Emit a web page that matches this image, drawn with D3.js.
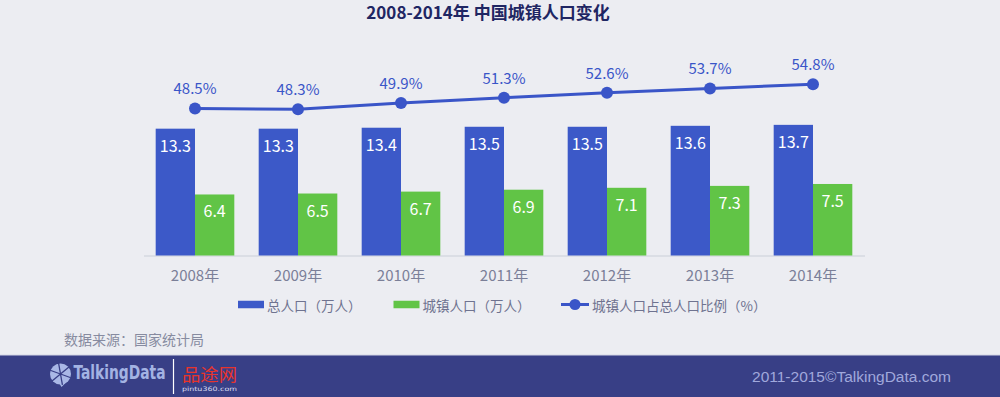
<!DOCTYPE html>
<html>
<head>
<meta charset="utf-8">
<script src="https://cdn.jsdelivr.net/npm/d3@7"></script>
<style>
  html, body { margin: 0; padding: 0; background: #ecedf2; }
  svg { display: block; }
</style>
</head>
<body>
<svg id="chart" width="1000" height="397"></svg>
<script>
const years = ['2008年', '2009年', '2010年', '2011年', '2012年', '2013年', '2014年'];
const totalPop = [13.3, 13.3, 13.4, 13.5, 13.5, 13.6, 13.7];
const urbanPop = [6.4, 6.5, 6.7, 6.9, 7.1, 7.3, 7.5];
const urbanRate = [48.5, 48.3, 49.9, 51.3, 52.6, 53.7, 54.8];
const seriesNames = ['总人口（万人）', '城镇人口（万人）', '城镇人口占总人口比例（%）'];

const BLUE = '#3c59c8';
const GREEN = '#61c446';
const LINE = '#3a55c8';
const GREY_TEXT = '#7b7f98';
const CJK = '"Noto Sans CJK SC", "Noto Sans", sans-serif';

const svg = d3.select('#chart');

svg.append('rect')
  .attr('width', 1000).attr('height', 397)
  .attr('fill', '#ecedf2');

// title
svg.append('text')
  .attr('x', 488).attr('y', 18.5)
  .attr('text-anchor', 'middle')
  .style('font-family', CJK)
  .style('font-weight', 'bold')
  .style('font-size', '17px')
  .style('fill', '#1f2663')
  .text('2008-2014年 中国城镇人口变化');

const x = d3.scaleBand()
  .domain(years)
  .range([143.5, 864.5]);

const xSub = d3.scaleBand()
  .domain(['total', 'urban'])
  .range([0, x.bandwidth()])
  .paddingInner(0)
  .paddingOuter(0.31);

const y = d3.scaleLinear()
  .domain([0, 14])
  .range([255.5, 122]);

const yRate = d3.scaleLinear()
  .domain([40, 60])
  .range([141.2, 64.2]);

// x axis
const xAxis = d3.axisBottom(x).tickSize(0).tickPadding(15);
const xAxisEl = svg.append('g')
  .attr('transform', `translate(0, ${y(0)})`)
  .call(xAxis);
xAxisEl.select('.domain')
  .attr('stroke', '#d6d8e0')
  .attr('stroke-width', 1.5);
xAxisEl.selectAll('text')
  .style('font-family', CJK)
  .style('font-size', '15px')
  .style('fill', GREY_TEXT);

const rows = years.map((yr, i) => ({ yr, total: totalPop[i], urban: urbanPop[i], rate: urbanRate[i] }));

const groups = svg.selectAll('.group')
  .data(rows)
  .enter()
  .append('g')
  .attr('class', 'group')
  .attr('transform', d => `translate(${x(d.yr)}, 0)`);

// blue bars
groups.append('rect')
  .attr('x', xSub('total'))
  .attr('width', xSub.bandwidth())
  .attr('y', d => y(d.total))
  .attr('height', d => y(0) - y(d.total))
  .attr('fill', BLUE);

// green bars
groups.append('rect')
  .attr('x', xSub('urban'))
  .attr('width', xSub.bandwidth())
  .attr('y', d => y(d.urban))
  .attr('height', d => y(0) - y(d.urban))
  .attr('fill', GREEN);

// value labels inside bars
groups.append('text')
  .attr('x', xSub('total') + xSub.bandwidth() / 2)
  .attr('y', d => y(d.total) + 23)
  .attr('text-anchor', 'middle')
  .style('font-family', CJK)
  .style('font-size', '16px')
  .style('fill', '#ffffff')
  .text(d => d3.format('.1f')(d.total));

groups.append('text')
  .attr('x', xSub('urban') + xSub.bandwidth() / 2)
  .attr('y', d => y(d.urban) + 23)
  .attr('text-anchor', 'middle')
  .style('font-family', CJK)
  .style('font-size', '16px')
  .style('fill', '#ffffff')
  .text(d => d3.format('.1f')(d.urban));

// rate line
const cx = d => x(d.yr) + x.bandwidth() / 2;
const line = d3.line()
  .x(cx)
  .y(d => yRate(d.rate));

svg.append('path')
  .datum(rows)
  .attr('d', line)
  .attr('fill', 'none')
  .attr('stroke', LINE)
  .attr('stroke-width', 3);

svg.selectAll('.dot')
  .data(rows)
  .enter()
  .append('circle')
  .attr('class', 'dot')
  .attr('cx', cx)
  .attr('cy', d => yRate(d.rate))
  .attr('r', 6)
  .attr('fill', LINE);

svg.selectAll('.rate-label')
  .data(rows)
  .enter()
  .append('text')
  .attr('class', 'rate-label')
  .attr('x', cx)
  .attr('y', d => yRate(d.rate) - 14)
  .attr('text-anchor', 'middle')
  .style('font-family', CJK)
  .style('font-size', '15px')
  .style('fill', LINE)
  .text(d => d3.format('.1f')(d.rate) + '%');

// legend
const legend = svg.append('g').attr('transform', 'translate(0, 304.5)');
const legendItems = [
  { name: seriesNames[0], x: 238, type: 'rect', color: BLUE },
  { name: seriesNames[1], x: 393.5, type: 'rect', color: GREEN },
  { name: seriesNames[2], x: 561, type: 'line', color: LINE },
];
legendItems.forEach(item => {
  if (item.type === 'rect') {
    legend.append('rect')
      .attr('x', item.x).attr('y', -3.75)
      .attr('width', 26).attr('height', 7.5)
      .attr('fill', item.color);
  } else {
    legend.append('line')
      .attr('x1', item.x).attr('x2', item.x + 28)
      .attr('stroke', item.color).attr('stroke-width', 3);
    legend.append('circle')
      .attr('cx', item.x + 14).attr('r', 5.5)
      .attr('fill', item.color);
  }
  legend.append('text')
    .attr('x', item.x + (item.type === 'rect' ? 29 : 31))
    .attr('y', 6)
    .style('font-family', CJK)
    .style('font-size', '13.5px')
    .style('fill', '#6f7390')
    .text(item.name);
});

// source
svg.append('text')
  .attr('x', 64).attr('y', 345)
  .style('font-family', CJK)
  .style('font-size', '14px')
  .style('fill', '#878ba0')
  .text('数据来源：国家统计局');

// footer band
svg.append('rect')
  .attr('x', 0).attr('y', 355)
  .attr('width', 1000).attr('height', 42)
  .attr('fill', '#383f86');
svg.append('line')
  .attr('x1', 0).attr('x2', 1000)
  .attr('y1', 355).attr('y2', 355)
  .attr('stroke', '#d4d6e6').attr('stroke-width', 1);

// TalkingData logo
const logo = svg.append('g').attr('transform', 'translate(60.5, 374)');
logo.append('circle').attr('r', 10.5).attr('fill', '#a9b8e6');
logo.append('path')
  .attr('d', 'M-2,8 L1,13 L6,8 Z')
  .attr('fill', '#a9b8e6');
[20, 80, 140, 200, 260, 320].forEach(a => {
  const r = a * Math.PI / 180;
  logo.append('line')
    .attr('x1', 0).attr('y1', 0)
    .attr('x2', 11 * Math.cos(r)).attr('y2', 11 * Math.sin(r))
    .attr('stroke', '#383f86').attr('stroke-width', 1.3);
});
svg.append('text')
  .attr('x', 73.5).attr('y', 379)
  .attr('textLength', 92)
  .attr('lengthAdjust', 'spacingAndGlyphs')
  .style('font-family', '"DejaVu Sans Condensed", "DejaVu Sans", sans-serif')
  .style('font-weight', 'bold')
  .style('font-size', '19px')
  .style('fill', '#a3b3e3')
  .text('TalkingData');
svg.append('line')
  .attr('x1', 173.5).attr('x2', 173.5)
  .attr('y1', 359).attr('y2', 394)
  .attr('stroke', '#ffffff').attr('stroke-width', 1.2);
svg.append('text')
  .attr('x', 182).attr('y', 381)
  .attr('textLength', 55)
  .attr('lengthAdjust', 'spacingAndGlyphs')
  .style('font-family', CJK)
  .style('font-size', '17px')
  .style('fill', '#e8342c')
  .text('品途网');
svg.append('text')
  .attr('x', 182).attr('y', 391)
  .attr('textLength', 55)
  .attr('lengthAdjust', 'spacingAndGlyphs')
  .style('font-family', '"DejaVu Sans", sans-serif')
  .style('font-size', '6px')
  .style('fill', '#d8dcf0')
  .text('pintu360.com');

svg.append('text')
  .attr('x', 951).attr('y', 382)
  .attr('text-anchor', 'end')
  .style('font-family', '"Liberation Sans", Arial, sans-serif')
  .style('font-size', '15.5px')
  .style('fill', '#a0a8dc')
  .text('2011-2015©TalkingData.com');
</script>
</body>
</html>
